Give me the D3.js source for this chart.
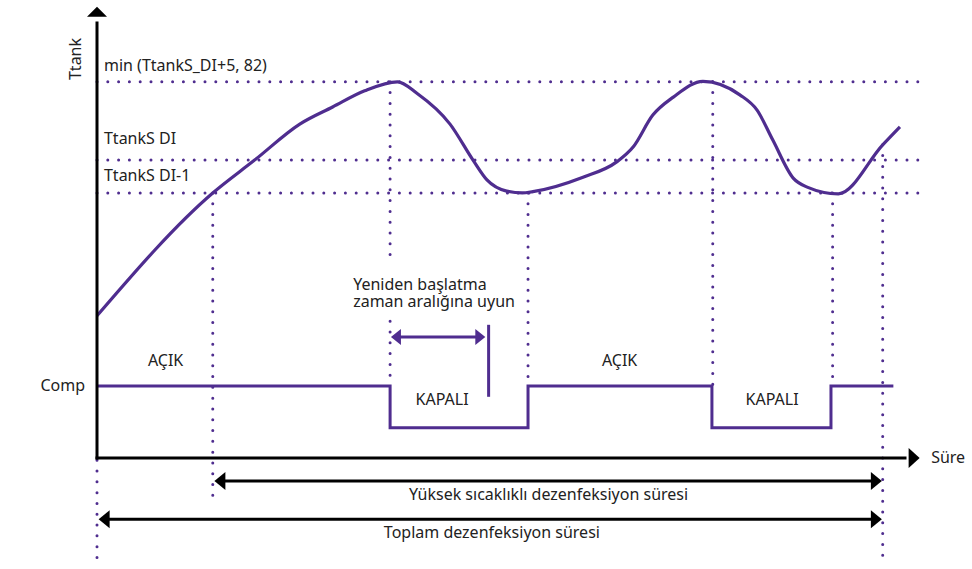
<!DOCTYPE html>
<html>
<head>
<meta charset="utf-8">
<title>Ttank / Comp diagram</title>
<script src="https://d3js.org/d3.v7.min.js"></script>
<style>
    body { margin: 0; background: #fff; }
    text { font-family: "Noto Sans", sans-serif; font-size: 16px; fill: #222; }
</style>
</head>
<body>
<svg class="chart"></svg>
<script>
    // time runs 0..100 along the x axis, temperature level 0..100 up the y axis (schematic units)
    var curveTime = [0, 14.1, 19.2, 24.7, 28.7, 32.6, 36.6, 39.0, 43.0, 45.8, 47.5, 49.9, 51.8, 53.1, 59.2, 63.3, 65.3, 67.7, 70.2, 73.8, 78.3, 80.4, 82.3, 84.8, 86.5, 90.3, 95.7, 97.8]
    var curveTemp = [31.6, 58.9, 66.2, 74.2, 78.0, 81.6, 83.6, 81.0, 74.2, 66.2, 61.8, 59.3, 58.9, 59.2, 62.4, 65.8, 69.1, 76.2, 80.2, 83.7, 80.7, 77.3, 70.7, 62.2, 60.2, 58.7, 69.6, 73.6]

    var levelNames = ["min (TtankS_DI+5, 82)", "TtankS DI", "TtankS DI-1"]
    var levelValues = [83.6, 66.2, 58.9]

    // compressor state: switch times and on/off
    var compTime = [0, 35.7, 52.5, 74.9, 89.4, 97.0]
    var compOn = [1, 0, 1, 0, 1, 1]
    var compLevel = { 1: 16, 0: 6.7 }
    var compLabels = ["AÇIK", "KAPALI", "AÇIK", "KAPALI"]
    var compLabelTime = [6.2, 38.8, 61.5, 79.0]

    // vertical dotted markers [time, from, to]
    var markers = [
        [14.1, 58.9, -8.7],
        [35.7, 83.6, 44.9],
        [35.7, 30.4, 16],
        [52.5, 58.9, 16],
        [75.0, 83.6, 16],
        [89.6, 58.9, 16],
        [95.7, 69.6, -22.7],
        [0, -0.5, -22.7]
    ]

    // duration spans
    var spanStart = [14.3, 0.2]
    var spanEnd = [95.6, 95.6]
    var spanLevel = [-5.1, -13.6]
    var spanNames = ["Yüksek sıcaklıklı dezenfeksiyon süresi", "Toplam dezenfeksiyon süresi"]

    var restartSpan = [35.8, 47.3]
    var restartLevel = 26.9
    var restartBar = [47.7, 29.6, 13.6]
    var restartText = ["Yeniden başlatma", "zaman aralığına uyun"]

    var width = 972, height = 569
    var purple = "#4f2d8f"
    var labelLift = [11, 16, 12]

    var svg = d3.select('.chart')
        .attr('width', width)
        .attr('height', height)

    var x = d3.scaleLinear().domain([0, 100]).range([97, 918])
    var y = d3.scaleLinear().domain([0, 100]).range([458, 8])

    var dots = "0 10.8"

    // horizontal level lines
    svg.selectAll('.level')
        .data(levelValues)
        .enter().append('line')
        .attr('x1', x(0)).attr('x2', x(100.5))
        .attr('y1', d => y(d)).attr('y2', d => y(d))
        .attr('stroke', purple).attr('stroke-width', 3)
        .attr('stroke-linecap', 'round')
        .attr('stroke-dasharray', dots)

    svg.selectAll('.levelName')
        .data(levelNames)
        .enter().append('text')
        .attr('x', x(0.85))
        .attr('y', (d, i) => y(levelValues[i]) - labelLift[i])
        .text(d => d)

    // vertical markers
    svg.selectAll('.marker')
        .data(markers)
        .enter().append('line')
        .attr('x1', d => x(d[0])).attr('x2', d => x(d[0]))
        .attr('y1', d => y(d[1])).attr('y2', d => y(d[2]))
        .attr('stroke', purple).attr('stroke-width', 3)
        .attr('stroke-linecap', 'round')
        .attr('stroke-dasharray', dots)

    // temperature curve
    var line = d3.line()
        .x(d => x(d[0]))
        .y(d => y(d[1]))
        .curve(d3.curveMonotoneX)

    svg.append('path')
        .datum(curveTime.map((t, i) => [t, curveTemp[i]]))
        .attr('d', line)
        .attr('fill', 'none')
        .attr('stroke', purple)
        .attr('stroke-width', 3.2)
        .attr('stroke-linejoin', 'round')

    // compressor step line
    var step = d3.line()
        .x(d => x(d[0]))
        .y(d => y(compLevel[d[1]]))
        .curve(d3.curveStepAfter)

    svg.append('path')
        .datum(compTime.map((t, i) => [t, compOn[i]]))
        .attr('d', step)
        .attr('fill', 'none')
        .attr('stroke', purple)
        .attr('stroke-width', 3)

    svg.selectAll('.compLabel')
        .data(compLabels)
        .enter().append('text')
        .attr('x', (d, i) => x(compLabelTime[i]))
        .attr('y', (d, i) => d == "AÇIK" ? y(compLevel[1]) - 20 : y(compLevel[1]) + 19)
        .text(d => d)

    svg.append('text')
        .attr('x', x(0) - 12)
        .attr('y', y(compLevel[1]) + 5)
        .attr('text-anchor', 'end')
        .text('Comp')

    // restart interval
    svg.append('line')
        .attr('x1', x(restartSpan[0]) + 8).attr('x2', x(restartSpan[1]) - 8)
        .attr('y1', y(restartLevel)).attr('y2', y(restartLevel))
        .attr('stroke', purple).attr('stroke-width', 3)

    svg.append('line')
        .attr('x1', x(restartBar[0])).attr('x2', x(restartBar[0]))
        .attr('y1', y(restartBar[1])).attr('y2', y(restartBar[2]))
        .attr('stroke', purple).attr('stroke-width', 3)

    function head(px, py, dir, len, half, color) {
        svg.append('path')
            .attr('d', 'M' + px + ',' + py + 'L' + (px - dir * len) + ',' + (py - half) + 'L' + (px - dir * len) + ',' + (py + half) + 'Z')
            .attr('fill', color)
    }
    head(x(restartSpan[0]), y(restartLevel), -1, 10, 8, purple)
    head(x(restartSpan[1]), y(restartLevel), 1, 10, 8, purple)

    // two-line note as one text block
    var note = svg.append('text')
        .attr('x', x(31.2))
        .attr('y', y(restartLevel) - 47)
    note.selectAll('tspan')
        .data(restartText)
        .enter().append('tspan')
        .attr('x', x(31.2))
        .attr('dy', (d, i) => i == 0 ? 0 : 17)
        .text(d => d)

    // duration spans
    spanNames.forEach((name, i) => {
        var yy = y(spanLevel[i])
        svg.append('line')
            .attr('x1', x(spanStart[i]) + 8).attr('x2', x(spanEnd[i]) - 8)
            .attr('y1', yy).attr('y2', yy)
            .attr('stroke', '#000').attr('stroke-width', 3)
        head(x(spanStart[i]), yy, -1, 11, 9, '#000')
        head(x(spanEnd[i]), yy, 1, 11, 9, '#000')
        svg.append('text')
            .attr('x', i == 0 ? x(55) : x(48.1))
            .attr('y', yy + 19)
            .attr('text-anchor', 'middle')
            .text(name)
    })

    // axes with arrows
    svg.append('line')
        .attr('x1', x(0)).attr('x2', x(0))
        .attr('y1', y(0) + 1.5).attr('y2', y(97))
        .attr('stroke', '#000').attr('stroke-width', 3)
    svg.append('path')
        .attr('d', 'M' + x(0) + ',' + y(100.3) + 'L' + (x(0) - 10) + ',' + (y(100.3) + 10) + 'L' + (x(0) + 10) + ',' + (y(100.3) + 10) + 'Z')
        .attr('fill', '#000')

    svg.append('line')
        .attr('x1', x(0) - 1.5).attr('x2', x(98.6))
        .attr('y1', y(0)).attr('y2', y(0))
        .attr('stroke', '#000').attr('stroke-width', 3)
    head(x(100.2), y(0), 1, 11, 10, '#000')

    svg.append('text')
        .attr('x', x(101.6))
        .attr('y', y(0) + 5)
        .text('Süre')

    svg.append('text')
        .attr('transform', 'translate(' + (x(0) - 16) + ',' + 59 + ') rotate(-90)')
        .attr('text-anchor', 'middle')
        .text('Ttank')
</script>
</body>
</html>
